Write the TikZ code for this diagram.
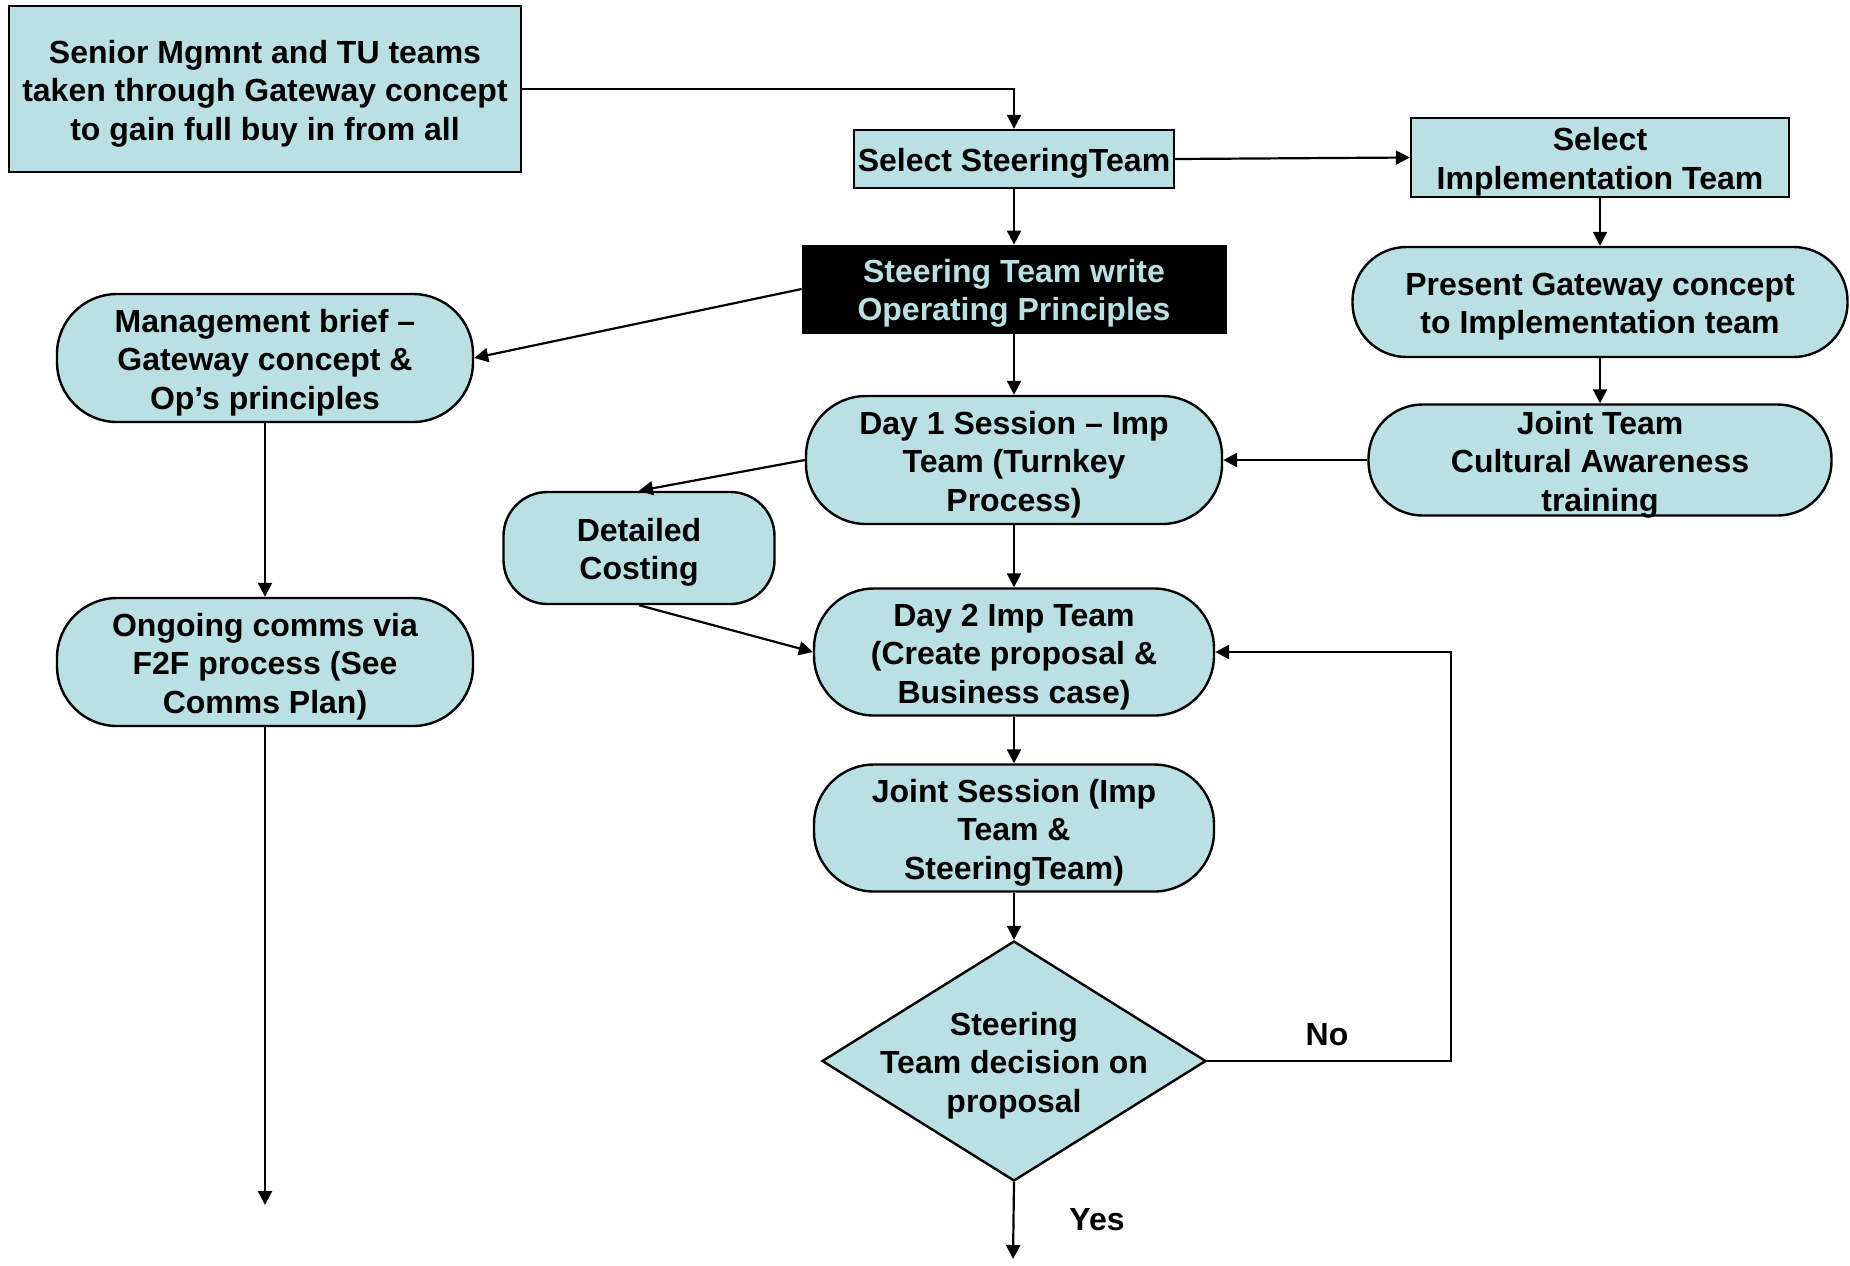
\documentclass[tikz,border=0pt]{standalone}
\usepackage{fontspec}
\setmainfont{Liberation Sans}
\usetikzlibrary{arrows.meta,shapes.geometric}
\definecolor{boxblue}{HTML}{BAE0E3}
\newcommand{\tup}{\rule{0pt}{16pt}}
\tikzset{
  lbl/.style={font=\bfseries\fontsize{16pt}{19.2pt}\selectfont, align=center, inner sep=0pt},
  txt/.style={lbl, execute at end node={\rule[-3.4pt]{0pt}{3.4pt}}},
  rbox/.style={txt, draw=black, line width=1.2pt, fill=boxblue, rectangle},
  pill/.style={rbox, rounded corners=#1},
  blackbox/.style={txt, fill=black, draw=black, text=boxblue, rectangle},
  dec/.style={diamond, draw=black, line width=1.2pt, fill=boxblue, inner sep=0pt},
  arr/.style={line width=1.1pt, -{Triangle[length=7pt,width=7pt]}}
}
\begin{document}
\begin{tikzpicture}[x=0.5pt,y=-0.5pt]
\useasboundingbox (0,0) rectangle (1850,1265);

\node[rbox, minimum width=256pt, minimum height=83pt] (senior) at (265,89)
  {\tup Senior Mgmnt and TU teams\\taken through Gateway concept\\to gain full buy in from all};
\node[rbox, minimum width=160pt, minimum height=29pt] (ssel) at (1014,159) {\tup Select SteeringTeam};
\node[rbox, minimum width=189pt, minimum height=39.5pt, inner ysep=-2pt] (isel) at (1600,157.5) {\tup Select\\Implementation Team};
\node[blackbox, minimum width=212pt, minimum height=44pt] (ops) at (1014,289) {\tup Steering Team write\\Operating Principles};
\node[pill=30pt, minimum width=208pt, minimum height=64pt] (mgmt) at (265,358) {\tup Management brief –\\Gateway concept \&\\Op’s principles};
\node[pill=27pt, minimum width=247.5pt, minimum height=55pt] (present) at (1600,302) {\tup Present Gateway concept\\to Implementation team};
\node[pill=30pt, minimum width=208pt, minimum height=64pt] (day1) at (1014,460) {\tup Day 1 Session – Imp\\Team (Turnkey\\Process)};
\node[pill=27pt, minimum width=231.5pt, minimum height=55.5pt, inner ysep=-2pt] (joint) at (1600,460) {\tup Joint Team\\Cultural Awareness\\training};
\node[pill=22pt, minimum width=135.5pt, minimum height=56pt] (cost) at (639,548) {\tup Detailed\\Costing};
\node[pill=30pt, minimum width=200pt, minimum height=63.5pt] (day2) at (1014,652) {\tup Day 2 Imp Team\\(Create proposal \&\\Business case)};
\node[pill=30pt, minimum width=200pt, minimum height=63.5pt] (jsess) at (1014,828) {\tup Joint Session (Imp\\Team \&\\SteeringTeam)};
\node[pill=30pt, minimum width=208pt, minimum height=64pt] (ongoing) at (265,662) {\tup Ongoing comms via\\F2F process (See\\Comms Plan)};
\node[dec, minimum width=192pt, minimum height=120pt] (dec) at (1014,1061) {};
\node[txt] (dectext) at (1014,1061) {\tup Steering\\Team decision on\\proposal};

\node[lbl] (no) at (1327,1035) {No};
\node[lbl] (yes) at (1097,1220) {Yes};

\coordinate (nocorner) at (1451,1061);
\coordinate (yesend) at (1013,1259);
\coordinate (commend) at (265,1205);

\draw[arr] (senior.east) -| (ssel.north);
\draw[arr] (ssel.east) -- (isel.west);
\draw[arr] (ssel) -- (ops);
\draw[arr] (ops.west) -- (mgmt.east);
\draw[arr] (ops) -- (day1);
\draw[arr] (isel) -- (present);
\draw[arr] (present) -- (joint);
\draw[arr] (joint) -- (day1);
\draw[arr] (day1.west) -- (cost.north);
\draw[arr] (cost.south) -- (day2.west);
\draw[arr] (day1) -- (day2);
\draw[arr] (day2) -- (jsess);
\draw[arr] (jsess) -- (dec);
\draw[arr] (dec.east) -- (nocorner) |- (day2.east);
\draw[arr] (dec.south) -- (yesend);
\draw[arr] (mgmt) -- (ongoing);
\draw[arr] (ongoing.south) -- (commend);
\end{tikzpicture}
\end{document}
